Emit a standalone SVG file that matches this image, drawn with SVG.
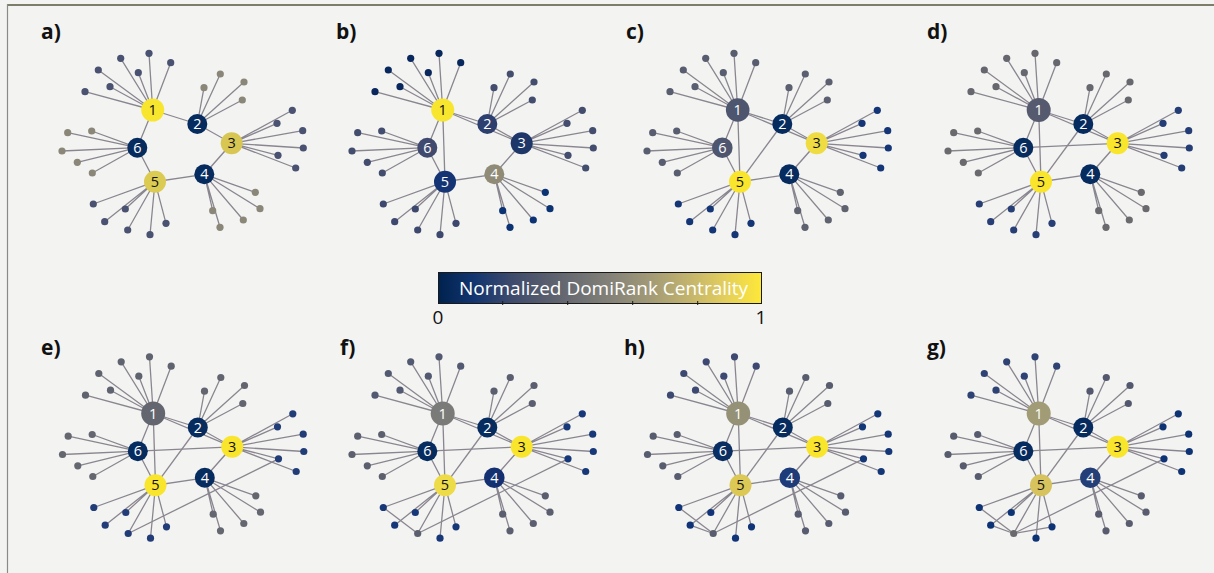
<svg xmlns="http://www.w3.org/2000/svg" xmlns:xlink="http://www.w3.org/1999/xlink" width="1214" height="573" viewBox="0 0 1214 573">
<style>
.t{font-family:"Open Sans","Liberation Sans",sans-serif;font-size:14.5px;text-anchor:middle;fill:#fff}
.t.d{fill:#111}
.lab{font-family:"Open Sans","Liberation Sans",sans-serif;font-size:21px;font-weight:bold;fill:#111}
.cb{font-family:"Open Sans","Liberation Sans",sans-serif;font-size:19px;fill:#111;text-anchor:middle}
#pa .h1{fill:#f8e62e}#pa .h2{fill:#062b5e}#pa .h3{fill:#d8c653}#pa .h4{fill:#062b5e}#pa .h5{fill:#dccb52}#pa .h6{fill:#062b5e}
#pa .k1,#pa .k3,#pa .k5{fill:#4a5272}#pa .k2,#pa .k4,#pa .k6{fill:#8a8678}
#pb .h1{fill:#f8e62e}#pb .h2{fill:#2d3f6e}#pb .h3{fill:#1e3668}#pb .h4{fill:#908b76}#pb .h5{fill:#143474}#pb .h6{fill:#3f4a6e}
#pb .k1{fill:#08275c}#pb .k2,#pb .k3,#pb .k6{fill:#434d6e}#pb .k4{fill:#0b3272}#pb .k5{fill:#3c486e}
#pc .h1,#pc .h6{fill:#4e556f}#pc .h2,#pc .h4{fill:#062b5e}#pc .h3{fill:#efdc42}#pc .h5{fill:#f8e52c}
#pc .k1,#pc .k6{fill:#585d6f}#pc .k2{fill:#5b5f6f}#pc .k4{fill:#5f626f}#pc .k3,#pc .k5{fill:#143677}
#pd .h1{fill:#555a6f}#pd .h2,#pd .h4,#pd .h6{fill:#062b5e}#pd .h3,#pd .h5{fill:#f8e52c}
#pd .k1{fill:#65666e}#pd .k2{fill:#67686e}#pd .k4,#pd .k6{fill:#6a6a6e}#pd .k3{fill:#243e75}#pd .k5{fill:#273f74}
#pe .h1{fill:#64666f}#pe .h2,#pe .h4,#pe .h6{fill:#062b5e}#pe .h3,#pe .h5{fill:#f8e52c}
#pe .k1{fill:#5f626f}#pe .k2{fill:#62646f}#pe .k4,#pe .k6{fill:#646670}#pe .k3,#pe .k5{fill:#213c77}
#pf .h1{fill:#7a7a78}#pf .h2,#pf .h6{fill:#062b5e}#pf .h3{fill:#f8e52c}#pf .h4{fill:#143070}#pf .h5{fill:#eedb48}
#pf .k1{fill:#525a72}#pf .k2,#pf .k4{fill:#5a5e6f}#pf .k6{fill:#5c5f6e}#pf .k3,#pf .k5{fill:#163879}#pf .k5.x{fill:#5c5f6e}
#ph .h1{fill:#959176}#ph .h2{fill:#062b5e}#ph .h6{fill:#0a2d62}#ph .h3{fill:#f8e52c}#ph .h4{fill:#1d3b78}#ph .h5{fill:#dcc855}
#ph .k1{fill:#3d4970}#ph .k2,#ph .k6{fill:#575c6e}#ph .k4{fill:#585c70}#ph .k3{fill:#133677}#ph .k5{fill:#103477}#ph .k5.x{fill:#585c6e}
#pg .h1{fill:#a19b76}#pg .h2,#pg .h6{fill:#062b5e}#pg .h3{fill:#f8e52c}#pg .h4{fill:#243e78}#pg .h5{fill:#d6c35d}
#pg .k1{fill:#2e4273}#pg .k2{fill:#53586e}#pg .k4{fill:#585c6e}#pg .k6{fill:#575b6e}#pg .k3,#pg .k5{fill:#0e3374}#pg .k5.x{fill:#6a6a6e}
</style>
<defs>
<linearGradient id="cividis" x1="0" y1="0" x2="1" y2="0">
<stop offset="0" stop-color="#00224e"/><stop offset="0.11" stop-color="#123570"/><stop offset="0.22" stop-color="#3b496c"/><stop offset="0.33" stop-color="#575d6d"/><stop offset="0.44" stop-color="#707173"/><stop offset="0.56" stop-color="#8a8779"/><stop offset="0.67" stop-color="#a69d75"/><stop offset="0.78" stop-color="#c4b56c"/><stop offset="0.89" stop-color="#e4cf5b"/><stop offset="1" stop-color="#fee838"/>
</linearGradient>
<path id="base" d="M152.7 110L197.3 124L231.7 143.3L204.3 174.3L155 181.7L137.3 147.7Z
M152.7 110L85 91.7M152.7 110L110 86.7M152.7 110L98.3 70M152.7 110L120.7 58.3M152.7 110L138.3 72.7M152.7 110L149 53.3M152.7 110L170.7 62.7
M197.3 124L204 87.7M197.3 124L220.3 74M197.3 124L244 82M197.3 124L242.3 100
M231.7 143.3L292.3 110.3M231.7 143.3L277 123.3M231.7 143.3L302.7 130.7M231.7 143.3L303.3 148M231.7 143.3L278 155.3M231.7 143.3L295.7 168
M204.3 174.3L212.7 210.7M204.3 174.3L220 227.3M204.3 174.3L255.3 192.3M204.3 174.3L260 208.7M204.3 174.3L243.3 220
M155 181.7L93.3 204M155 181.7L125.3 209M155 181.7L104.7 221.7M155 181.7L127.7 230M155 181.7L150 234.7M155 181.7L166 223.3
M137.3 147.7L67.7 132.7M137.3 147.7L91.7 131M137.3 147.7L62 151M137.3 147.7L77.3 162.3M137.3 147.7L92.3 173"/>
<path id="e13" d="M152.7 110L231.7 143.3"/>
<path id="e15" d="M152.7 110L155 181.7"/>
<path id="e25" d="M197.3 124L155 181.7"/>
<path id="e63" d="M137.3 147.7L231.7 143.3"/>
<path id="eL" d="M127.7 230L278 155.3"/>
<path id="eA" d="M93.3 204L127.7 230"/>
<path id="eD" d="M104.7 221.7L127.7 230"/>
<path id="eF" d="M127.7 230L166 223.3"/>
</defs>
<rect x="0" y="0" width="1214" height="573" fill="#f3f3f1"/>
<line x1="7" y1="5" x2="1214" y2="5" stroke="#7d7d6a" stroke-width="2"/>
<line x1="7.5" y1="4" x2="7.5" y2="573" stroke="#8a8a86" stroke-width="1.2"/>

<g id="labels">
<text class="lab" x="41" y="39">a)</text>
<text class="lab" x="336" y="39">b)</text>
<text class="lab" x="626" y="39">c)</text>
<text class="lab" x="927" y="39">d)</text>
<text class="lab" x="41" y="355">e)</text>
<text class="lab" x="340" y="355">f)</text>
<text class="lab" x="624" y="355">h)</text>
<text class="lab" x="927" y="355">g)</text>
</g>

<g id="colorbar">
<rect x="438.5" y="272.5" width="323" height="31" fill="url(#cividis)" stroke="#1a1a1a" stroke-width="1"/>
<path d="M502.7 301V305M567.7 301V305M632.7 301V305M697.7 301V305" stroke="#1a1a1a" stroke-width="1"/>
<text x="459" y="295" font-family="Open Sans, Liberation Sans, sans-serif" font-size="19" fill="#fff">Normalized DomiRank Centrality</text>
<text class="cb" x="438" y="324">0</text>
<text class="cb" x="761" y="324">1</text>
</g>

<!-- Panel a -->
<g id="pa">
<g id="a-edges" stroke="#8a8690" stroke-width="1.3" fill="none"><use href="#base"/></g>
<g id="a-l1-1"><circle class="k1" cx="85" cy="91.7" r="3.6"/></g><g id="a-l1-2"><circle class="k1" cx="110" cy="86.7" r="3.6"/></g><g id="a-l1-3"><circle class="k1" cx="98.3" cy="70" r="3.6"/></g><g id="a-l1-4"><circle class="k1" cx="120.7" cy="58.3" r="3.6"/></g><g id="a-l1-5"><circle class="k1" cx="138.3" cy="72.7" r="3.6"/></g><g id="a-l1-6"><circle class="k1" cx="149" cy="53.3" r="3.6"/></g><g id="a-l1-7"><circle class="k1" cx="170.7" cy="62.7" r="3.6"/></g>
<g id="a-l2-1"><circle class="k2" cx="204" cy="87.7" r="3.6"/></g><g id="a-l2-2"><circle class="k2" cx="220.3" cy="74" r="3.6"/></g><g id="a-l2-3"><circle class="k2" cx="244" cy="82" r="3.6"/></g><g id="a-l2-4"><circle class="k2" cx="242.3" cy="100" r="3.6"/></g>
<g id="a-l3-1"><circle class="k3" cx="292.3" cy="110.3" r="3.6"/></g><g id="a-l3-2"><circle class="k3" cx="277" cy="123.3" r="3.6"/></g><g id="a-l3-3"><circle class="k3" cx="302.7" cy="130.7" r="3.6"/></g><g id="a-l3-4"><circle class="k3" cx="303.3" cy="148" r="3.6"/></g><g id="a-l3-5"><circle class="k3" cx="278" cy="155.3" r="3.6"/></g><g id="a-l3-6"><circle class="k3" cx="295.7" cy="168" r="3.6"/></g>
<g id="a-l4-1"><circle class="k4" cx="212.7" cy="210.7" r="3.6"/></g><g id="a-l4-2"><circle class="k4" cx="220" cy="227.3" r="3.6"/></g><g id="a-l4-3"><circle class="k4" cx="255.3" cy="192.3" r="3.6"/></g><g id="a-l4-4"><circle class="k4" cx="260" cy="208.7" r="3.6"/></g><g id="a-l4-5"><circle class="k4" cx="243.3" cy="220" r="3.6"/></g>
<g id="a-l5-1"><circle class="k5" cx="93.3" cy="204" r="3.6"/></g><g id="a-l5-2"><circle class="k5" cx="125.3" cy="209" r="3.6"/></g><g id="a-l5-3"><circle class="k5" cx="104.7" cy="221.7" r="3.6"/></g><g id="a-l5-4"><circle class="k5 x" cx="127.7" cy="230" r="3.6"/></g><g id="a-l5-5"><circle class="k5" cx="150" cy="234.7" r="3.6"/></g><g id="a-l5-6"><circle class="k5" cx="166" cy="223.3" r="3.6"/></g>
<g id="a-l6-1"><circle class="k6" cx="67.7" cy="132.7" r="3.6"/></g><g id="a-l6-2"><circle class="k6" cx="91.7" cy="131" r="3.6"/></g><g id="a-l6-3"><circle class="k6" cx="62" cy="151" r="3.6"/></g><g id="a-l6-4"><circle class="k6" cx="77.3" cy="162.3" r="3.6"/></g><g id="a-l6-5"><circle class="k6" cx="92.3" cy="173" r="3.6"/></g>
<g id="a-n1"><circle class="h1" cx="152.7" cy="110" r="11.5"/><text class="t d" x="152.7" y="115">1</text></g>
<g id="a-n2"><circle class="h2" cx="197.3" cy="124" r="10"/><text class="t" x="197.3" y="129">2</text></g>
<g id="a-n3"><circle class="h3" cx="231.7" cy="143.3" r="11"/><text class="t d" x="231.7" y="148.3">3</text></g>
<g id="a-n4"><circle class="h4" cx="204.3" cy="174.3" r="10"/><text class="t" x="204.3" y="179.3">4</text></g>
<g id="a-n5"><circle class="h5" cx="155" cy="181.7" r="11"/><text class="t d" x="155" y="186.7">5</text></g>
<g id="a-n6"><circle class="h6" cx="137.3" cy="147.7" r="10"/><text class="t" x="137.3" y="152.7">6</text></g>
</g>

<!-- Panel b -->
<g id="pb" transform="translate(290,0)">
<g id="b-edges" stroke="#8a8690" stroke-width="1.3" fill="none"><use href="#base"/><use href="#e13"/><use href="#e15"/></g>
<g id="b-l1-1"><circle class="k1" cx="85" cy="91.7" r="3.6"/></g><g id="b-l1-2"><circle class="k1" cx="110" cy="86.7" r="3.6"/></g><g id="b-l1-3"><circle class="k1" cx="98.3" cy="70" r="3.6"/></g><g id="b-l1-4"><circle class="k1" cx="120.7" cy="58.3" r="3.6"/></g><g id="b-l1-5"><circle class="k1" cx="138.3" cy="72.7" r="3.6"/></g><g id="b-l1-6"><circle class="k1" cx="149" cy="53.3" r="3.6"/></g><g id="b-l1-7"><circle class="k1" cx="170.7" cy="62.7" r="3.6"/></g>
<g id="b-l2-1"><circle class="k2" cx="204" cy="87.7" r="3.6"/></g><g id="b-l2-2"><circle class="k2" cx="220.3" cy="74" r="3.6"/></g><g id="b-l2-3"><circle class="k2" cx="244" cy="82" r="3.6"/></g><g id="b-l2-4"><circle class="k2" cx="242.3" cy="100" r="3.6"/></g>
<g id="b-l3-1"><circle class="k3" cx="292.3" cy="110.3" r="3.6"/></g><g id="b-l3-2"><circle class="k3" cx="277" cy="123.3" r="3.6"/></g><g id="b-l3-3"><circle class="k3" cx="302.7" cy="130.7" r="3.6"/></g><g id="b-l3-4"><circle class="k3" cx="303.3" cy="148" r="3.6"/></g><g id="b-l3-5"><circle class="k3" cx="278" cy="155.3" r="3.6"/></g><g id="b-l3-6"><circle class="k3" cx="295.7" cy="168" r="3.6"/></g>
<g id="b-l4-1"><circle class="k4" cx="212.7" cy="210.7" r="3.6"/></g><g id="b-l4-2"><circle class="k4" cx="220" cy="227.3" r="3.6"/></g><g id="b-l4-3"><circle class="k4" cx="255.3" cy="192.3" r="3.6"/></g><g id="b-l4-4"><circle class="k4" cx="260" cy="208.7" r="3.6"/></g><g id="b-l4-5"><circle class="k4" cx="243.3" cy="220" r="3.6"/></g>
<g id="b-l5-1"><circle class="k5" cx="93.3" cy="204" r="3.6"/></g><g id="b-l5-2"><circle class="k5" cx="125.3" cy="209" r="3.6"/></g><g id="b-l5-3"><circle class="k5" cx="104.7" cy="221.7" r="3.6"/></g><g id="b-l5-4"><circle class="k5 x" cx="127.7" cy="230" r="3.6"/></g><g id="b-l5-5"><circle class="k5" cx="150" cy="234.7" r="3.6"/></g><g id="b-l5-6"><circle class="k5" cx="166" cy="223.3" r="3.6"/></g>
<g id="b-l6-1"><circle class="k6" cx="67.7" cy="132.7" r="3.6"/></g><g id="b-l6-2"><circle class="k6" cx="91.7" cy="131" r="3.6"/></g><g id="b-l6-3"><circle class="k6" cx="62" cy="151" r="3.6"/></g><g id="b-l6-4"><circle class="k6" cx="77.3" cy="162.3" r="3.6"/></g><g id="b-l6-5"><circle class="k6" cx="92.3" cy="173" r="3.6"/></g>
<g id="b-n1"><circle class="h1" cx="152.7" cy="110" r="11.5"/><text class="t d" x="152.7" y="115">1</text></g>
<g id="b-n2"><circle class="h2" cx="197.3" cy="124" r="10"/><text class="t" x="197.3" y="129">2</text></g>
<g id="b-n3"><circle class="h3" cx="231.7" cy="143.3" r="11"/><text class="t" x="231.7" y="148.3">3</text></g>
<g id="b-n4"><circle class="h4" cx="204.3" cy="174.3" r="10"/><text class="t" x="204.3" y="179.3">4</text></g>
<g id="b-n5"><circle class="h5" cx="155" cy="181.7" r="11"/><text class="t" x="155" y="186.7">5</text></g>
<g id="b-n6"><circle class="h6" cx="137.3" cy="147.7" r="10"/><text class="t" x="137.3" y="152.7">6</text></g>
</g>

<!-- Panel c -->
<g id="pc" transform="translate(585,0)">
<g id="c-edges" stroke="#8a8690" stroke-width="1.3" fill="none"><use href="#base"/><use href="#e13"/><use href="#e15"/><use href="#e25"/></g>
<g id="c-l1-1"><circle class="k1" cx="85" cy="91.7" r="3.6"/></g><g id="c-l1-2"><circle class="k1" cx="110" cy="86.7" r="3.6"/></g><g id="c-l1-3"><circle class="k1" cx="98.3" cy="70" r="3.6"/></g><g id="c-l1-4"><circle class="k1" cx="120.7" cy="58.3" r="3.6"/></g><g id="c-l1-5"><circle class="k1" cx="138.3" cy="72.7" r="3.6"/></g><g id="c-l1-6"><circle class="k1" cx="149" cy="53.3" r="3.6"/></g><g id="c-l1-7"><circle class="k1" cx="170.7" cy="62.7" r="3.6"/></g>
<g id="c-l2-1"><circle class="k2" cx="204" cy="87.7" r="3.6"/></g><g id="c-l2-2"><circle class="k2" cx="220.3" cy="74" r="3.6"/></g><g id="c-l2-3"><circle class="k2" cx="244" cy="82" r="3.6"/></g><g id="c-l2-4"><circle class="k2" cx="242.3" cy="100" r="3.6"/></g>
<g id="c-l3-1"><circle class="k3" cx="292.3" cy="110.3" r="3.6"/></g><g id="c-l3-2"><circle class="k3" cx="277" cy="123.3" r="3.6"/></g><g id="c-l3-3"><circle class="k3" cx="302.7" cy="130.7" r="3.6"/></g><g id="c-l3-4"><circle class="k3" cx="303.3" cy="148" r="3.6"/></g><g id="c-l3-5"><circle class="k3" cx="278" cy="155.3" r="3.6"/></g><g id="c-l3-6"><circle class="k3" cx="295.7" cy="168" r="3.6"/></g>
<g id="c-l4-1"><circle class="k4" cx="212.7" cy="210.7" r="3.6"/></g><g id="c-l4-2"><circle class="k4" cx="220" cy="227.3" r="3.6"/></g><g id="c-l4-3"><circle class="k4" cx="255.3" cy="192.3" r="3.6"/></g><g id="c-l4-4"><circle class="k4" cx="260" cy="208.7" r="3.6"/></g><g id="c-l4-5"><circle class="k4" cx="243.3" cy="220" r="3.6"/></g>
<g id="c-l5-1"><circle class="k5" cx="93.3" cy="204" r="3.6"/></g><g id="c-l5-2"><circle class="k5" cx="125.3" cy="209" r="3.6"/></g><g id="c-l5-3"><circle class="k5" cx="104.7" cy="221.7" r="3.6"/></g><g id="c-l5-4"><circle class="k5 x" cx="127.7" cy="230" r="3.6"/></g><g id="c-l5-5"><circle class="k5" cx="150" cy="234.7" r="3.6"/></g><g id="c-l5-6"><circle class="k5" cx="166" cy="223.3" r="3.6"/></g>
<g id="c-l6-1"><circle class="k6" cx="67.7" cy="132.7" r="3.6"/></g><g id="c-l6-2"><circle class="k6" cx="91.7" cy="131" r="3.6"/></g><g id="c-l6-3"><circle class="k6" cx="62" cy="151" r="3.6"/></g><g id="c-l6-4"><circle class="k6" cx="77.3" cy="162.3" r="3.6"/></g><g id="c-l6-5"><circle class="k6" cx="92.3" cy="173" r="3.6"/></g>
<g id="c-n1"><circle class="h1" cx="152.7" cy="110" r="11.8"/><text class="t" x="152.7" y="115">1</text></g>
<g id="c-n2"><circle class="h2" cx="197.3" cy="124" r="10"/><text class="t" x="197.3" y="129">2</text></g>
<g id="c-n3"><circle class="h3" cx="231.7" cy="143.3" r="11"/><text class="t d" x="231.7" y="148.3">3</text></g>
<g id="c-n4"><circle class="h4" cx="204.3" cy="174.3" r="10"/><text class="t" x="204.3" y="179.3">4</text></g>
<g id="c-n5"><circle class="h5" cx="155" cy="181.7" r="11"/><text class="t d" x="155" y="186.7">5</text></g>
<g id="c-n6"><circle class="h6" cx="137.3" cy="147.7" r="10.3"/><text class="t" x="137.3" y="152.7">6</text></g>
</g>

<!-- Panel d -->
<g id="pd" transform="translate(886,0)">
<g id="d-edges" stroke="#8a8690" stroke-width="1.3" fill="none"><use href="#base"/><use href="#e13"/><use href="#e15"/><use href="#e25"/><use href="#e63"/></g>
<g id="d-l1-1"><circle class="k1" cx="85" cy="91.7" r="3.6"/></g><g id="d-l1-2"><circle class="k1" cx="110" cy="86.7" r="3.6"/></g><g id="d-l1-3"><circle class="k1" cx="98.3" cy="70" r="3.6"/></g><g id="d-l1-4"><circle class="k1" cx="120.7" cy="58.3" r="3.6"/></g><g id="d-l1-5"><circle class="k1" cx="138.3" cy="72.7" r="3.6"/></g><g id="d-l1-6"><circle class="k1" cx="149" cy="53.3" r="3.6"/></g><g id="d-l1-7"><circle class="k1" cx="170.7" cy="62.7" r="3.6"/></g>
<g id="d-l2-1"><circle class="k2" cx="204" cy="87.7" r="3.6"/></g><g id="d-l2-2"><circle class="k2" cx="220.3" cy="74" r="3.6"/></g><g id="d-l2-3"><circle class="k2" cx="244" cy="82" r="3.6"/></g><g id="d-l2-4"><circle class="k2" cx="242.3" cy="100" r="3.6"/></g>
<g id="d-l3-1"><circle class="k3" cx="292.3" cy="110.3" r="3.6"/></g><g id="d-l3-2"><circle class="k3" cx="277" cy="123.3" r="3.6"/></g><g id="d-l3-3"><circle class="k3" cx="302.7" cy="130.7" r="3.6"/></g><g id="d-l3-4"><circle class="k3" cx="303.3" cy="148" r="3.6"/></g><g id="d-l3-5"><circle class="k3" cx="278" cy="155.3" r="3.6"/></g><g id="d-l3-6"><circle class="k3" cx="295.7" cy="168" r="3.6"/></g>
<g id="d-l4-1"><circle class="k4" cx="212.7" cy="210.7" r="3.6"/></g><g id="d-l4-2"><circle class="k4" cx="220" cy="227.3" r="3.6"/></g><g id="d-l4-3"><circle class="k4" cx="255.3" cy="192.3" r="3.6"/></g><g id="d-l4-4"><circle class="k4" cx="260" cy="208.7" r="3.6"/></g><g id="d-l4-5"><circle class="k4" cx="243.3" cy="220" r="3.6"/></g>
<g id="d-l5-1"><circle class="k5" cx="93.3" cy="204" r="3.6"/></g><g id="d-l5-2"><circle class="k5" cx="125.3" cy="209" r="3.6"/></g><g id="d-l5-3"><circle class="k5" cx="104.7" cy="221.7" r="3.6"/></g><g id="d-l5-4"><circle class="k5 x" cx="127.7" cy="230" r="3.6"/></g><g id="d-l5-5"><circle class="k5" cx="150" cy="234.7" r="3.6"/></g><g id="d-l5-6"><circle class="k5" cx="166" cy="223.3" r="3.6"/></g>
<g id="d-l6-1"><circle class="k6" cx="67.7" cy="132.7" r="3.6"/></g><g id="d-l6-2"><circle class="k6" cx="91.7" cy="131" r="3.6"/></g><g id="d-l6-3"><circle class="k6" cx="62" cy="151" r="3.6"/></g><g id="d-l6-4"><circle class="k6" cx="77.3" cy="162.3" r="3.6"/></g><g id="d-l6-5"><circle class="k6" cx="92.3" cy="173" r="3.6"/></g>
<g id="d-n1"><circle class="h1" cx="152.7" cy="110" r="12"/><text class="t" x="152.7" y="115">1</text></g>
<g id="d-n2"><circle class="h2" cx="197.3" cy="124" r="10"/><text class="t" x="197.3" y="129">2</text></g>
<g id="d-n3"><circle class="h3" cx="231.7" cy="143.3" r="11"/><text class="t d" x="231.7" y="148.3">3</text></g>
<g id="d-n4"><circle class="h4" cx="204.3" cy="174.3" r="10"/><text class="t" x="204.3" y="179.3">4</text></g>
<g id="d-n5"><circle class="h5" cx="155" cy="181.7" r="11"/><text class="t d" x="155" y="186.7">5</text></g>
<g id="d-n6"><circle class="h6" cx="137.3" cy="147.7" r="10"/><text class="t" x="137.3" y="152.7">6</text></g>
</g>

<!-- Panel e -->
<g id="pe" transform="translate(0.5,303.5)">
<g id="e-edges" stroke="#8a8690" stroke-width="1.3" fill="none"><use href="#base"/><use href="#e13"/><use href="#e15"/><use href="#e25"/><use href="#e63"/><use href="#eL"/></g>
<g id="e-l1-1"><circle class="k1" cx="85" cy="91.7" r="3.6"/></g><g id="e-l1-2"><circle class="k1" cx="110" cy="86.7" r="3.6"/></g><g id="e-l1-3"><circle class="k1" cx="98.3" cy="70" r="3.6"/></g><g id="e-l1-4"><circle class="k1" cx="120.7" cy="58.3" r="3.6"/></g><g id="e-l1-5"><circle class="k1" cx="138.3" cy="72.7" r="3.6"/></g><g id="e-l1-6"><circle class="k1" cx="149" cy="53.3" r="3.6"/></g><g id="e-l1-7"><circle class="k1" cx="170.7" cy="62.7" r="3.6"/></g>
<g id="e-l2-1"><circle class="k2" cx="204" cy="87.7" r="3.6"/></g><g id="e-l2-2"><circle class="k2" cx="220.3" cy="74" r="3.6"/></g><g id="e-l2-3"><circle class="k2" cx="244" cy="82" r="3.6"/></g><g id="e-l2-4"><circle class="k2" cx="242.3" cy="100" r="3.6"/></g>
<g id="e-l3-1"><circle class="k3" cx="292.3" cy="110.3" r="3.6"/></g><g id="e-l3-2"><circle class="k3" cx="277" cy="123.3" r="3.6"/></g><g id="e-l3-3"><circle class="k3" cx="302.7" cy="130.7" r="3.6"/></g><g id="e-l3-4"><circle class="k3" cx="303.3" cy="148" r="3.6"/></g><g id="e-l3-5"><circle class="k3" cx="278" cy="155.3" r="3.6"/></g><g id="e-l3-6"><circle class="k3" cx="295.7" cy="168" r="3.6"/></g>
<g id="e-l4-1"><circle class="k4" cx="212.7" cy="210.7" r="3.6"/></g><g id="e-l4-2"><circle class="k4" cx="220" cy="227.3" r="3.6"/></g><g id="e-l4-3"><circle class="k4" cx="255.3" cy="192.3" r="3.6"/></g><g id="e-l4-4"><circle class="k4" cx="260" cy="208.7" r="3.6"/></g><g id="e-l4-5"><circle class="k4" cx="243.3" cy="220" r="3.6"/></g>
<g id="e-l5-1"><circle class="k5" cx="93.3" cy="204" r="3.6"/></g><g id="e-l5-2"><circle class="k5" cx="125.3" cy="209" r="3.6"/></g><g id="e-l5-3"><circle class="k5" cx="104.7" cy="221.7" r="3.6"/></g><g id="e-l5-4"><circle class="k5 x" cx="127.7" cy="230" r="3.6"/></g><g id="e-l5-5"><circle class="k5" cx="150" cy="234.7" r="3.6"/></g><g id="e-l5-6"><circle class="k5" cx="166" cy="223.3" r="3.6"/></g>
<g id="e-l6-1"><circle class="k6" cx="67.7" cy="132.7" r="3.6"/></g><g id="e-l6-2"><circle class="k6" cx="91.7" cy="131" r="3.6"/></g><g id="e-l6-3"><circle class="k6" cx="62" cy="151" r="3.6"/></g><g id="e-l6-4"><circle class="k6" cx="77.3" cy="162.3" r="3.6"/></g><g id="e-l6-5"><circle class="k6" cx="92.3" cy="173" r="3.6"/></g>
<g id="e-n1"><circle class="h1" cx="152.7" cy="110" r="12"/><text class="t" x="152.7" y="115">1</text></g>
<g id="e-n2"><circle class="h2" cx="197.3" cy="124" r="10"/><text class="t" x="197.3" y="129">2</text></g>
<g id="e-n3"><circle class="h3" cx="231.7" cy="143.3" r="11"/><text class="t d" x="231.7" y="148.3">3</text></g>
<g id="e-n4"><circle class="h4" cx="204.3" cy="174.3" r="10"/><text class="t" x="204.3" y="179.3">4</text></g>
<g id="e-n5"><circle class="h5" cx="155" cy="181.7" r="11"/><text class="t d" x="155" y="186.7">5</text></g>
<g id="e-n6"><circle class="h6" cx="137.3" cy="147.7" r="10"/><text class="t" x="137.3" y="152.7">6</text></g>
</g>

<!-- Panel f -->
<g id="pf" transform="translate(290,303.5)">
<g id="f-edges" stroke="#8a8690" stroke-width="1.3" fill="none"><use href="#base"/><use href="#e13"/><use href="#e15"/><use href="#e25"/><use href="#e63"/><use href="#eL"/><use href="#eA"/></g>
<g id="f-l1-1"><circle class="k1" cx="85" cy="91.7" r="3.6"/></g><g id="f-l1-2"><circle class="k1" cx="110" cy="86.7" r="3.6"/></g><g id="f-l1-3"><circle class="k1" cx="98.3" cy="70" r="3.6"/></g><g id="f-l1-4"><circle class="k1" cx="120.7" cy="58.3" r="3.6"/></g><g id="f-l1-5"><circle class="k1" cx="138.3" cy="72.7" r="3.6"/></g><g id="f-l1-6"><circle class="k1" cx="149" cy="53.3" r="3.6"/></g><g id="f-l1-7"><circle class="k1" cx="170.7" cy="62.7" r="3.6"/></g>
<g id="f-l2-1"><circle class="k2" cx="204" cy="87.7" r="3.6"/></g><g id="f-l2-2"><circle class="k2" cx="220.3" cy="74" r="3.6"/></g><g id="f-l2-3"><circle class="k2" cx="244" cy="82" r="3.6"/></g><g id="f-l2-4"><circle class="k2" cx="242.3" cy="100" r="3.6"/></g>
<g id="f-l3-1"><circle class="k3" cx="292.3" cy="110.3" r="3.6"/></g><g id="f-l3-2"><circle class="k3" cx="277" cy="123.3" r="3.6"/></g><g id="f-l3-3"><circle class="k3" cx="302.7" cy="130.7" r="3.6"/></g><g id="f-l3-4"><circle class="k3" cx="303.3" cy="148" r="3.6"/></g><g id="f-l3-5"><circle class="k3" cx="278" cy="155.3" r="3.6"/></g><g id="f-l3-6"><circle class="k3" cx="295.7" cy="168" r="3.6"/></g>
<g id="f-l4-1"><circle class="k4" cx="212.7" cy="210.7" r="3.6"/></g><g id="f-l4-2"><circle class="k4" cx="220" cy="227.3" r="3.6"/></g><g id="f-l4-3"><circle class="k4" cx="255.3" cy="192.3" r="3.6"/></g><g id="f-l4-4"><circle class="k4" cx="260" cy="208.7" r="3.6"/></g><g id="f-l4-5"><circle class="k4" cx="243.3" cy="220" r="3.6"/></g>
<g id="f-l5-1"><circle class="k5" cx="93.3" cy="204" r="3.6"/></g><g id="f-l5-2"><circle class="k5" cx="125.3" cy="209" r="3.6"/></g><g id="f-l5-3"><circle class="k5" cx="104.7" cy="221.7" r="3.6"/></g><g id="f-l5-4"><circle class="k5 x" cx="127.7" cy="230" r="3.6"/></g><g id="f-l5-5"><circle class="k5" cx="150" cy="234.7" r="3.6"/></g><g id="f-l5-6"><circle class="k5" cx="166" cy="223.3" r="3.6"/></g>
<g id="f-l6-1"><circle class="k6" cx="67.7" cy="132.7" r="3.6"/></g><g id="f-l6-2"><circle class="k6" cx="91.7" cy="131" r="3.6"/></g><g id="f-l6-3"><circle class="k6" cx="62" cy="151" r="3.6"/></g><g id="f-l6-4"><circle class="k6" cx="77.3" cy="162.3" r="3.6"/></g><g id="f-l6-5"><circle class="k6" cx="92.3" cy="173" r="3.6"/></g>
<g id="f-n1"><circle class="h1" cx="152.7" cy="110" r="12"/><text class="t" x="152.7" y="115">1</text></g>
<g id="f-n2"><circle class="h2" cx="197.3" cy="124" r="10"/><text class="t" x="197.3" y="129">2</text></g>
<g id="f-n3"><circle class="h3" cx="231.7" cy="143.3" r="11"/><text class="t d" x="231.7" y="148.3">3</text></g>
<g id="f-n4"><circle class="h4" cx="204.3" cy="174.3" r="10.3"/><text class="t" x="204.3" y="179.3">4</text></g>
<g id="f-n5"><circle class="h5" cx="155" cy="181.7" r="11"/><text class="t d" x="155" y="186.7">5</text></g>
<g id="f-n6"><circle class="h6" cx="137.3" cy="147.7" r="10"/><text class="t" x="137.3" y="152.7">6</text></g>
</g>

<!-- Panel h -->
<g id="ph" transform="translate(585.5,303.5)">
<g id="h-edges" stroke="#8a8690" stroke-width="1.3" fill="none"><use href="#base"/><use href="#e13"/><use href="#e15"/><use href="#e25"/><use href="#e63"/><use href="#eL"/><use href="#eA"/><use href="#eD"/></g>
<g id="h-l1-1"><circle class="k1" cx="85" cy="91.7" r="3.6"/></g><g id="h-l1-2"><circle class="k1" cx="110" cy="86.7" r="3.6"/></g><g id="h-l1-3"><circle class="k1" cx="98.3" cy="70" r="3.6"/></g><g id="h-l1-4"><circle class="k1" cx="120.7" cy="58.3" r="3.6"/></g><g id="h-l1-5"><circle class="k1" cx="138.3" cy="72.7" r="3.6"/></g><g id="h-l1-6"><circle class="k1" cx="149" cy="53.3" r="3.6"/></g><g id="h-l1-7"><circle class="k1" cx="170.7" cy="62.7" r="3.6"/></g>
<g id="h-l2-1"><circle class="k2" cx="204" cy="87.7" r="3.6"/></g><g id="h-l2-2"><circle class="k2" cx="220.3" cy="74" r="3.6"/></g><g id="h-l2-3"><circle class="k2" cx="244" cy="82" r="3.6"/></g><g id="h-l2-4"><circle class="k2" cx="242.3" cy="100" r="3.6"/></g>
<g id="h-l3-1"><circle class="k3" cx="292.3" cy="110.3" r="3.6"/></g><g id="h-l3-2"><circle class="k3" cx="277" cy="123.3" r="3.6"/></g><g id="h-l3-3"><circle class="k3" cx="302.7" cy="130.7" r="3.6"/></g><g id="h-l3-4"><circle class="k3" cx="303.3" cy="148" r="3.6"/></g><g id="h-l3-5"><circle class="k3" cx="278" cy="155.3" r="3.6"/></g><g id="h-l3-6"><circle class="k3" cx="295.7" cy="168" r="3.6"/></g>
<g id="h-l4-1"><circle class="k4" cx="212.7" cy="210.7" r="3.6"/></g><g id="h-l4-2"><circle class="k4" cx="220" cy="227.3" r="3.6"/></g><g id="h-l4-3"><circle class="k4" cx="255.3" cy="192.3" r="3.6"/></g><g id="h-l4-4"><circle class="k4" cx="260" cy="208.7" r="3.6"/></g><g id="h-l4-5"><circle class="k4" cx="243.3" cy="220" r="3.6"/></g>
<g id="h-l5-1"><circle class="k5" cx="93.3" cy="204" r="3.6"/></g><g id="h-l5-2"><circle class="k5" cx="125.3" cy="209" r="3.6"/></g><g id="h-l5-3"><circle class="k5" cx="104.7" cy="221.7" r="3.6"/></g><g id="h-l5-4"><circle class="k5 x" cx="127.7" cy="230" r="3.6"/></g><g id="h-l5-5"><circle class="k5" cx="150" cy="234.7" r="3.6"/></g><g id="h-l5-6"><circle class="k5" cx="166" cy="223.3" r="3.6"/></g>
<g id="h-l6-1"><circle class="k6" cx="67.7" cy="132.7" r="3.6"/></g><g id="h-l6-2"><circle class="k6" cx="91.7" cy="131" r="3.6"/></g><g id="h-l6-3"><circle class="k6" cx="62" cy="151" r="3.6"/></g><g id="h-l6-4"><circle class="k6" cx="77.3" cy="162.3" r="3.6"/></g><g id="h-l6-5"><circle class="k6" cx="92.3" cy="173" r="3.6"/></g>
<g id="h-n1"><circle class="h1" cx="152.7" cy="110" r="12"/><text class="t" x="152.7" y="115">1</text></g>
<g id="h-n2"><circle class="h2" cx="197.3" cy="124" r="10"/><text class="t" x="197.3" y="129">2</text></g>
<g id="h-n3"><circle class="h3" cx="231.7" cy="143.3" r="11"/><text class="t d" x="231.7" y="148.3">3</text></g>
<g id="h-n4"><circle class="h4" cx="204.3" cy="174.3" r="10.3"/><text class="t" x="204.3" y="179.3">4</text></g>
<g id="h-n5"><circle class="h5" cx="155" cy="181.7" r="11"/><text class="t d" x="155" y="186.7">5</text></g>
<g id="h-n6"><circle class="h6" cx="137.3" cy="147.7" r="10"/><text class="t" x="137.3" y="152.7">6</text></g>
</g>

<!-- Panel g -->
<g id="pg" transform="translate(886,303.5)">
<g id="g-edges" stroke="#8a8690" stroke-width="1.3" fill="none"><use href="#base"/><use href="#e13"/><use href="#e15"/><use href="#e25"/><use href="#e63"/><use href="#eL"/><use href="#eA"/><use href="#eD"/><use href="#eF"/></g>
<g id="g-l1-1"><circle class="k1" cx="85" cy="91.7" r="3.6"/></g><g id="g-l1-2"><circle class="k1" cx="110" cy="86.7" r="3.6"/></g><g id="g-l1-3"><circle class="k1" cx="98.3" cy="70" r="3.6"/></g><g id="g-l1-4"><circle class="k1" cx="120.7" cy="58.3" r="3.6"/></g><g id="g-l1-5"><circle class="k1" cx="138.3" cy="72.7" r="3.6"/></g><g id="g-l1-6"><circle class="k1" cx="149" cy="53.3" r="3.6"/></g><g id="g-l1-7"><circle class="k1" cx="170.7" cy="62.7" r="3.6"/></g>
<g id="g-l2-1"><circle class="k2" cx="204" cy="87.7" r="3.6"/></g><g id="g-l2-2"><circle class="k2" cx="220.3" cy="74" r="3.6"/></g><g id="g-l2-3"><circle class="k2" cx="244" cy="82" r="3.6"/></g><g id="g-l2-4"><circle class="k2" cx="242.3" cy="100" r="3.6"/></g>
<g id="g-l3-1"><circle class="k3" cx="292.3" cy="110.3" r="3.6"/></g><g id="g-l3-2"><circle class="k3" cx="277" cy="123.3" r="3.6"/></g><g id="g-l3-3"><circle class="k3" cx="302.7" cy="130.7" r="3.6"/></g><g id="g-l3-4"><circle class="k3" cx="303.3" cy="148" r="3.6"/></g><g id="g-l3-5"><circle class="k3" cx="278" cy="155.3" r="3.6"/></g><g id="g-l3-6"><circle class="k3" cx="295.7" cy="168" r="3.6"/></g>
<g id="g-l4-1"><circle class="k4" cx="212.7" cy="210.7" r="3.6"/></g><g id="g-l4-2"><circle class="k4" cx="220" cy="227.3" r="3.6"/></g><g id="g-l4-3"><circle class="k4" cx="255.3" cy="192.3" r="3.6"/></g><g id="g-l4-4"><circle class="k4" cx="260" cy="208.7" r="3.6"/></g><g id="g-l4-5"><circle class="k4" cx="243.3" cy="220" r="3.6"/></g>
<g id="g-l5-1"><circle class="k5" cx="93.3" cy="204" r="3.6"/></g><g id="g-l5-2"><circle class="k5" cx="125.3" cy="209" r="3.6"/></g><g id="g-l5-3"><circle class="k5" cx="104.7" cy="221.7" r="3.6"/></g><g id="g-l5-4"><circle class="k5 x" cx="127.7" cy="230" r="3.6"/></g><g id="g-l5-5"><circle class="k5" cx="150" cy="234.7" r="3.6"/></g><g id="g-l5-6"><circle class="k5" cx="166" cy="223.3" r="3.6"/></g>
<g id="g-l6-1"><circle class="k6" cx="67.7" cy="132.7" r="3.6"/></g><g id="g-l6-2"><circle class="k6" cx="91.7" cy="131" r="3.6"/></g><g id="g-l6-3"><circle class="k6" cx="62" cy="151" r="3.6"/></g><g id="g-l6-4"><circle class="k6" cx="77.3" cy="162.3" r="3.6"/></g><g id="g-l6-5"><circle class="k6" cx="92.3" cy="173" r="3.6"/></g>
<g id="g-n1"><circle class="h1" cx="152.7" cy="110" r="12"/><text class="t" x="152.7" y="115">1</text></g>
<g id="g-n2"><circle class="h2" cx="197.3" cy="124" r="10"/><text class="t" x="197.3" y="129">2</text></g>
<g id="g-n3"><circle class="h3" cx="231.7" cy="143.3" r="11"/><text class="t d" x="231.7" y="148.3">3</text></g>
<g id="g-n4"><circle class="h4" cx="204.3" cy="174.3" r="10.3"/><text class="t" x="204.3" y="179.3">4</text></g>
<g id="g-n5"><circle class="h5" cx="155" cy="181.7" r="11"/><text class="t d" x="155" y="186.7">5</text></g>
<g id="g-n6"><circle class="h6" cx="137.3" cy="147.7" r="10"/><text class="t" x="137.3" y="152.7">6</text></g>
</g>
</svg>
